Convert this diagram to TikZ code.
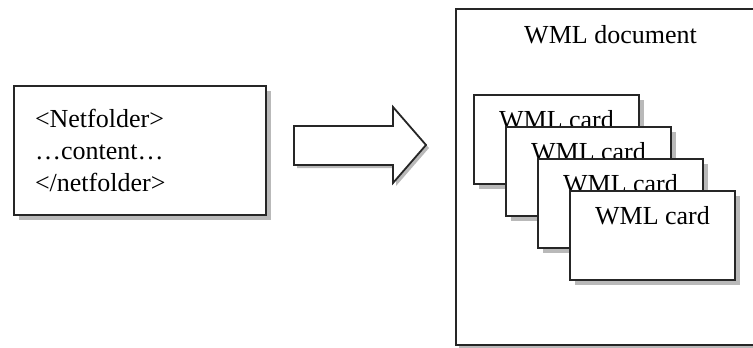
\documentclass[tikz,border=0pt]{standalone}
\usepackage{fontspec}
\setmainfont{Liberation Serif}
\usetikzlibrary{shadows}

\tikzset{
	box/.style={draw=black!85, line width=1.8pt, fill=white, inner sep=0pt},
	cast/.style={drop shadow={shadow xshift=#1, shadow yshift=-#1, fill=gray!55, opacity=1}},
	cardbox/.style={box, cast=5pt, minimum width=165pt, minimum height=89pt,
		label={[anchor=base, yshift=-34pt]north:WML card}}
}

\begin{document}
\begin{tikzpicture}[x=1pt, y=-1pt, font=\fontsize{26}{32}\selectfont]
\useasboundingbox (0,0) rectangle (753,348);
\node[box, cast=5pt, minimum width=252pt, minimum height=129pt, text width=210pt, align=left] (src) at (140,150.5)
	{<Netfolder>\\…content…\\</netfolder>};
\draw[box, cast=3pt] (294,126) -- (393,126) -- (393,107) -- (426,145) -- (393,183) -- (393,165) -- (294,165) -- cycle;
\node[box, cast=3pt, minimum width=309pt, minimum height=336pt,
	label={[anchor=base, yshift=-35pt]north:WML document}] (doc) at (610.5,177) {};
\foreach \i in {1,...,4}
	\node[cardbox] (card\i) at (524.5+32*\i, 107.5+32*\i) {};
\end{tikzpicture}
\end{document}
